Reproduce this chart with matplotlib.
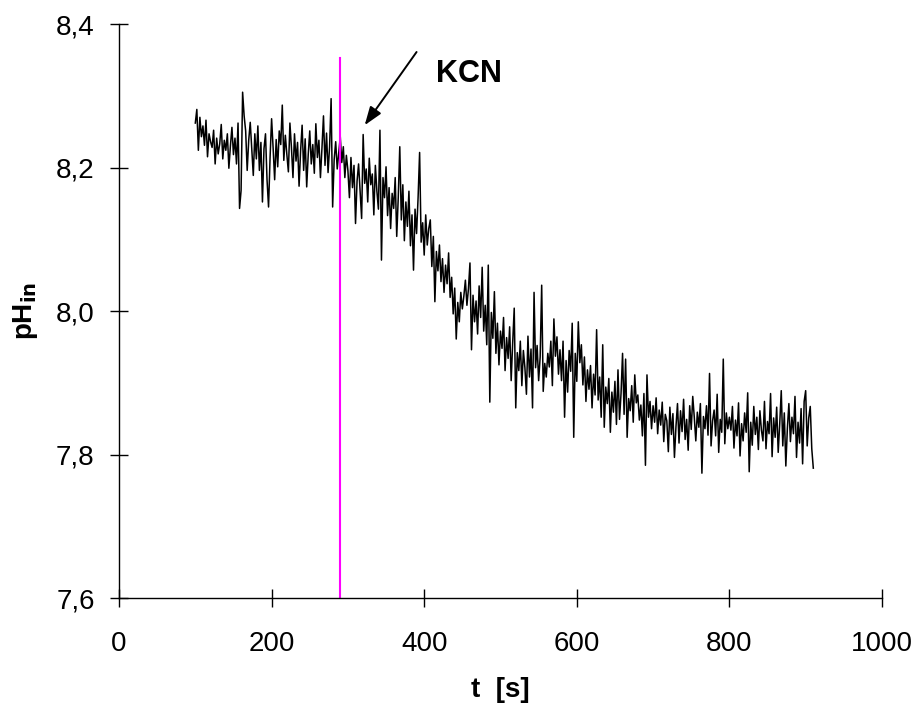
import numpy as np
import matplotlib
matplotlib.use("Agg")
import matplotlib.pyplot as plt
from matplotlib.ticker import FixedLocator, FuncFormatter

plt.rcParams['font.family'] = ['Liberation Sans', 'DejaVu Sans']

# time sampling (s)
t_start = 100
t_step = 2

ph_values = [
    8.262, 8.281, 8.224, 8.270, 8.243, 8.258, 8.231, 8.266, 8.215, 8.247,
    8.236, 8.228, 8.252, 8.205, 8.241, 8.219, 8.233, 8.260, 8.212, 8.238,
    8.224, 8.247, 8.199, 8.230, 8.256, 8.218, 8.241, 8.205, 8.262, 8.143,
    8.168, 8.305, 8.272, 8.251, 8.196, 8.238, 8.263, 8.225, 8.189, 8.247,
    8.212, 8.258, 8.196, 8.235, 8.152, 8.226, 8.247, 8.183, 8.145, 8.214,
    8.268, 8.227, 8.183, 8.239, 8.201, 8.251, 8.232, 8.287, 8.210, 8.245,
    8.218, 8.194, 8.262, 8.228, 8.186, 8.247, 8.209, 8.235, 8.174, 8.223,
    8.259, 8.196, 8.240, 8.173, 8.218, 8.251, 8.205, 8.232, 8.192, 8.261,
    8.214, 8.238, 8.186, 8.227, 8.272, 8.203, 8.248, 8.193, 8.229, 8.296,
    8.145, 8.211, 8.236, 8.198, 8.221, 8.243, 8.207, 8.229, 8.186, 8.217,
    8.196, 8.158, 8.214, 8.172, 8.203, 8.122, 8.181, 8.205, 8.168, 8.129,
    8.246, 8.178, 8.198, 8.152, 8.213, 8.176, 8.191, 8.134, 8.203, 8.167,
    8.142, 8.252, 8.071, 8.186, 8.158, 8.201, 8.133, 8.172, 8.115, 8.164,
    8.143, 8.186, 8.104, 8.158, 8.229, 8.127, 8.176, 8.098, 8.152, 8.118,
    8.167, 8.091, 8.134, 8.057, 8.142, 8.108, 8.158, 8.221, 8.096, 8.123,
    8.078, 8.134, 8.092, 8.115, 8.127, 8.062, 8.104, 8.013, 8.083, 8.056,
    8.092, 8.041, 8.073, 8.026, 8.064, 8.038, 8.081, 8.019, 8.047, 7.996,
    8.032, 7.961, 8.012, 7.985, 8.026, 8.003, 8.021, 8.043, 8.008, 8.031,
    8.067, 7.946, 8.022, 7.985, 8.014, 7.968, 8.035, 7.991, 8.061, 7.972,
    8.008, 7.953, 8.064, 7.873, 7.998, 7.962, 8.027, 7.941, 7.983, 7.925,
    7.972, 7.948, 7.991, 7.917, 7.963, 7.934, 7.978, 7.903, 7.956, 8.004,
    7.865, 7.942, 7.917, 7.958, 7.896, 7.945, 7.921, 7.884, 7.965, 7.908,
    7.947, 7.865, 8.026, 7.921, 7.952, 7.903, 7.936, 8.036, 7.888, 7.927,
    7.908, 7.941, 7.922, 7.958, 7.896, 7.989, 7.937, 7.964, 7.912, 7.946,
    7.903, 7.958, 7.852, 7.931, 7.887, 7.945, 7.916, 7.983, 7.824, 7.941,
    7.902, 7.985, 7.928, 7.953, 7.897, 7.936, 7.874, 7.918, 7.891, 7.924,
    7.865, 7.912, 7.883, 7.974, 7.876, 7.908, 7.852, 7.953, 7.838, 7.894,
    7.871, 7.906, 7.831, 7.887, 7.859, 7.902, 7.842, 7.918, 7.849, 7.885,
    7.941, 7.856, 7.933, 7.824, 7.878, 7.861, 7.896, 7.845, 7.911, 7.872,
    7.883, 7.848, 7.869, 7.826, 7.885, 7.785, 7.911, 7.852, 7.874, 7.836,
    7.868, 7.845, 7.879, 7.829, 7.862, 7.841, 7.873, 7.818, 7.856, 7.847,
    7.804, 7.866, 7.828, 7.857, 7.796, 7.839, 7.871, 7.816, 7.861, 7.832,
    7.877, 7.821, 7.849, 7.806, 7.868, 7.835, 7.881, 7.852, 7.819, 7.859,
    7.838, 7.871, 7.774, 7.853, 7.836, 7.868, 7.827, 7.913, 7.812, 7.847,
    7.862, 7.826, 7.884, 7.803, 7.849, 7.831, 7.933, 7.815, 7.858, 7.836,
    7.852, 7.834, 7.867, 7.809, 7.848, 7.826, 7.872, 7.798, 7.843, 7.819,
    7.858, 7.831, 7.886, 7.776, 7.845, 7.813, 7.867, 7.828, 7.852, 7.807,
    7.861, 7.834, 7.819, 7.874, 7.808, 7.846, 7.829, 7.885, 7.797, 7.851,
    7.824, 7.866, 7.803, 7.843, 7.889, 7.812, 7.858, 7.784, 7.836, 7.871,
    7.818, 7.852, 7.829, 7.881, 7.796, 7.845, 7.816, 7.864, 7.787, 7.874,
    7.889, 7.812, 7.851, 7.867, 7.808, 7.781,
]

x_ticks = [0, 200, 400, 600, 800, 1000]
y_ticks = [7.6, 7.8, 8.0, 8.2, 8.4]
kcn_time = 290
kcn_line_top = 8.353
arrow_tail = (390, 8.361)
arrow_head = (322, 8.259)
label_pos = (416, 8.330)
label_text = "KCN"

t_values = t_start + t_step * np.arange(len(ph_values))

fig = plt.figure(figsize=(9.19, 7.11), dpi=100)
ax = fig.add_axes([0.1295, 0.1589, 0.8302, 0.8073])

ax.plot(t_values, ph_values, color='black', linewidth=1.1)
ax.plot([kcn_time, kcn_time], [7.6, kcn_line_top], color='#ff00ff', linewidth=1.5)

ax.annotate('', xy=arrow_head, xytext=arrow_tail,
            arrowprops=dict(arrowstyle='-|>,head_length=0.7,head_width=0.25',
                            color='black', lw=1.4,
                            mutation_scale=16, shrinkA=0, shrinkB=0))
ax.text(label_pos[0], label_pos[1], label_text, fontsize=22, fontweight='bold',
        ha='left', va='center')

ax.set_xlim(0, 1000)
ax.set_ylim(7.6, 8.4)
ax.xaxis.set_major_locator(FixedLocator(x_ticks))
ax.yaxis.set_major_locator(FixedLocator(y_ticks))
ax.xaxis.set_major_formatter(FuncFormatter(lambda v, p: f"{v:.0f}"))
ax.yaxis.set_major_formatter(FuncFormatter(lambda v, p: f"{v:.1f}".replace('.', ',')))

for s in ['top', 'right']:
    ax.spines[s].set_visible(False)
for s in ['left', 'bottom']:
    ax.spines[s].set_linewidth(1.0)
ax.tick_params(axis='both', direction='inout', length=13, width=1.0, labelsize=20)
ax.tick_params(axis='x', pad=17)
ax.tick_params(axis='y', pad=11)

ax.set_xlabel('t  [s]', fontsize=20, fontweight='bold')
ax.set_ylabel(r'pH$_{\mathbf{in}}$', fontsize=20, fontweight='bold')
ax.xaxis.set_label_coords(0.5, -0.137)
ax.yaxis.set_label_coords(-0.103, 0.5)

fig.savefig('out.png', dpi=100)
